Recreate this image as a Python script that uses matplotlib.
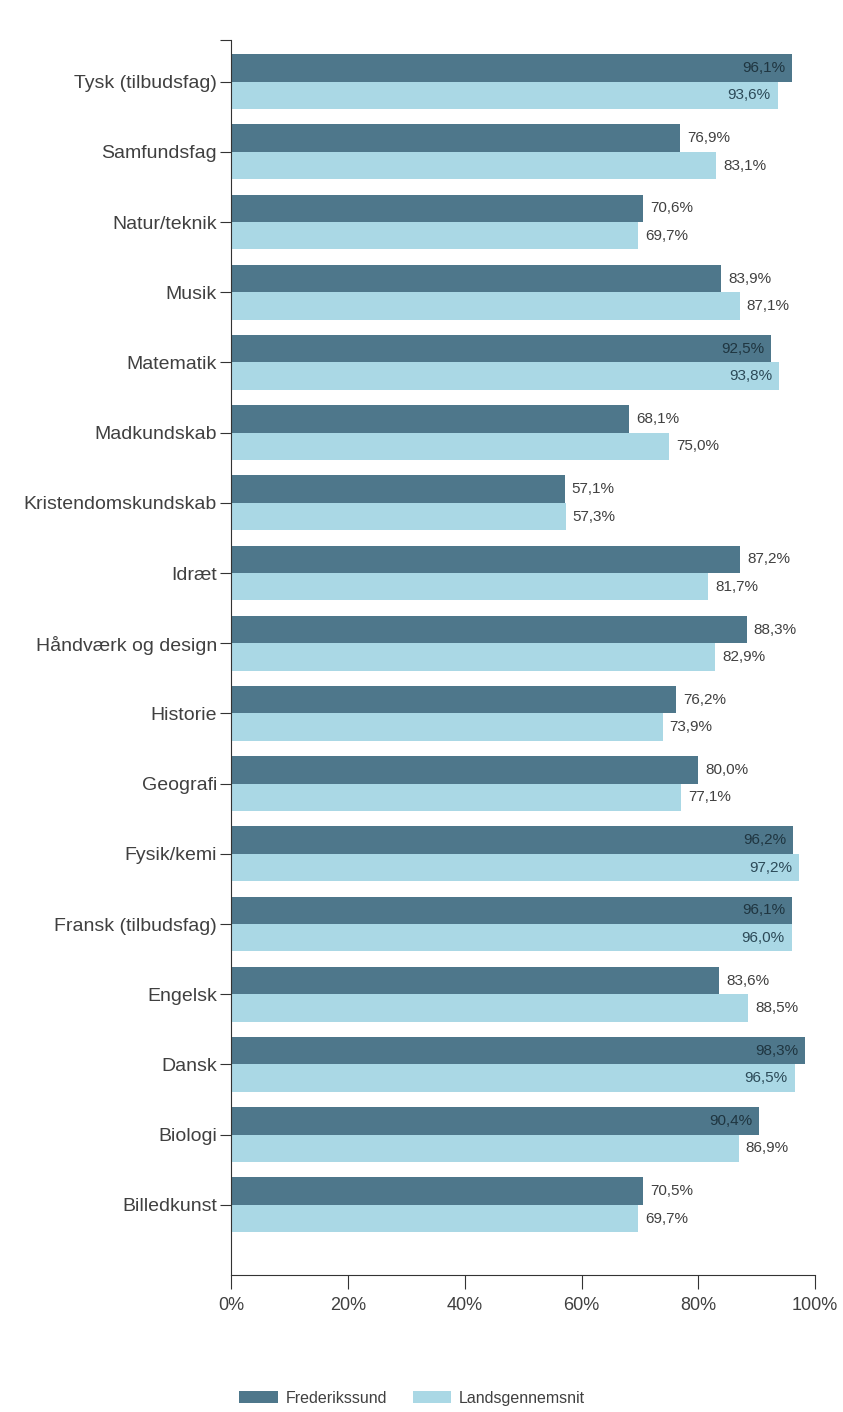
import matplotlib.pyplot as plt
import numpy as np

plt.rcParams['font.family'] = ['Liberation Sans', 'DejaVu Sans']

fag = ["Tysk (tilbudsfag)", "Samfundsfag", "Natur/teknik", "Musik", "Matematik",
       "Madkundskab", "Kristendomskundskab", "Idræt", "Håndværk og design",
       "Historie", "Geografi", "Fysik/kemi", "Fransk (tilbudsfag)", "Engelsk",
       "Dansk", "Biologi", "Billedkunst"]
frederikssund = [96.1, 76.9, 70.6, 83.9, 92.5, 68.1, 57.1, 87.2, 88.3,
                 76.2, 80.0, 96.2, 96.1, 83.6, 98.3, 90.4, 70.5]
landsgennemsnit = [93.6, 83.1, 69.7, 87.1, 93.8, 75.0, 57.3, 81.7, 82.9,
                   73.9, 77.1, 97.2, 96.0, 88.5, 96.5, 86.9, 69.7]

DARK = "#4e778b"
LIGHT = "#aad8e5"
TXT = "#404040"

fig = plt.figure(figsize=(8.43, 14.12), dpi=100)
ax = fig.add_axes([0.274, 0.097, 0.693, 0.875])

n = len(fag)
y = np.arange(n)[::-1]
h = 0.39

ax.barh(y + h / 2, frederikssund, height=h, color=DARK, label="Frederikssund")
ax.barh(y - h / 2, landsgennemsnit, height=h, color=LIGHT, label="Landsgennemsnit")


def fmt(v):
    return f"{v:.1f}%".replace(".", ",")


for yy, v in zip(y + h / 2, frederikssund):
    if v >= 90:
        ax.text(v - 1.2, yy, fmt(v), ha="right", va="center", fontsize=11, color="#1f3540")
    else:
        ax.text(v + 1.2, yy, fmt(v), ha="left", va="center", fontsize=11, color=TXT)
for yy, v in zip(y - h / 2, landsgennemsnit):
    if v >= 90:
        ax.text(v - 1.2, yy, fmt(v), ha="right", va="center", fontsize=11, color="#2c4a58")
    else:
        ax.text(v + 1.2, yy, fmt(v), ha="left", va="center", fontsize=11, color=TXT)

ax.set_xlim(0, 100)
ax.set_ylim(-1.0, n - 1 + 0.6)
ax.set_xticks([0, 20, 40, 60, 80, 100])
ax.set_xticklabels(["0%", "20%", "40%", "60%", "80%", "100%"], fontsize=13, color=TXT)
ax.set_yticks(list(y) + [n - 1 + 0.6])
ax.set_yticklabels(fag + [""], fontsize=14, color=TXT)

ax.spines["top"].set_visible(False)
ax.spines["right"].set_visible(False)
ax.spines["left"].set_color("#333333")
ax.spines["bottom"].set_color("#333333")
ax.tick_params(axis="x", length=10, color="#333333", pad=6)
ax.tick_params(axis="y", length=8, color="#333333", pad=2)

ax.legend(loc="upper center", bbox_to_anchor=(0.31, -0.082), ncol=2, frameon=False,
          fontsize=11.5, handlelength=2.4, handleheight=0.8, columnspacing=1.6,
          handletextpad=0.5, labelcolor=TXT)

fig.savefig("out.png", dpi=100)
